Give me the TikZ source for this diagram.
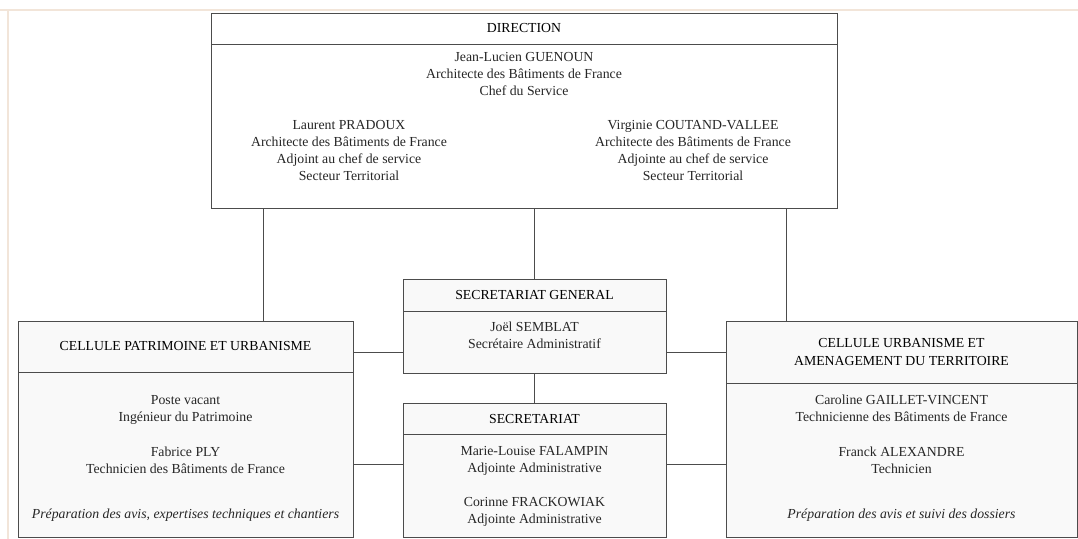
\documentclass[tikz,border=0pt]{standalone}
\usepackage{fontspec}
\setmainfont{Liberation Serif}
\usetikzlibrary{positioning}

\newcommand\orgfont{\fontsize{9.8}{12.1}\selectfont}

\begin{document}
\begin{tikzpicture}[
  font=\orgfont,
  head/.style={draw=black!70, line width=0.7pt, fill=gray!5, align=center, inner sep=0pt},
  body/.style={draw=black!70, line width=0.7pt, fill=gray!5, inner sep=0pt},
  txt/.style={align=center, text=black!85, inner sep=0pt},
  note/.style={txt, font=\orgfont\itshape},
  link/.style={draw=black!70, line width=0.7pt},
]
\useasboundingbox (0,0) rectangle (26.95,-13.475);
\draw[brown!20, line width=0.8pt] (0,-0.25) -- (26.95,-0.25);
\draw[brown!20, line width=0.8pt] (0.2,-0.25) -- (0.2,-13.475);

\node[head, fill=white, minimum width=15.65cm, minimum height=0.775cm] (dirh) at (13.1,-0.7125) {DIRECTION};
\node[body, fill=white, minimum width=15.65cm, minimum height=4.1cm, below=0pt of dirh] (dirb) {};
\node[txt] (chef) at (13.1,-1.85)
  {Jean-Lucien GUENOUN\\Architecte des Bâtiments de France\\Chef du Service};
\node[txt] (adj1) at (8.725,-3.7625)
  {Laurent PRADOUX\\Architecte des Bâtiments de France\\Adjoint au chef de service\\Secteur Territorial};
\node[txt] (adj2) at (17.325,-3.7625)
  {Virginie COUTAND-VALLEE\\Architecte des Bâtiments de France\\Adjointe au chef de service\\Secteur Territorial};

\node[head, minimum width=8.375cm, minimum height=1.275cm] (cpuh) at (4.6375,-8.6625) {CELLULE PATRIMOINE ET URBANISME};
\node[body, minimum width=8.375cm, minimum height=4.125cm, below=0pt of cpuh] (cpub) {};
\node[txt] (cpustaff) at (4.6375,-10.8625)
  {Poste vacant\\Ingénieur du Patrimoine\\[0.45cm]Fabrice PLY\\Technicien des Bâtiments de France};
\node[note] (cpunote) at (4.6375,-12.875) {Préparation des avis, expertises techniques et chantiers};

\node[head, minimum width=6.575cm, minimum height=0.8cm] (sgh) at (13.3625,-7.375) {SECRETARIAT GENERAL};
\node[body, minimum width=6.575cm, minimum height=1.55cm, below=0pt of sgh] (sgb) {};
\node[txt] (sgstaff) at (13.3625,-8.375) {Joël SEMBLAT\\Secrétaire Administratif};

\node[head, minimum width=6.575cm, minimum height=0.775cm] (sech) at (13.3625,-10.4625) {SECRETARIAT};
\node[body, minimum width=6.575cm, minimum height=2.575cm, below=0pt of sech] (secb) {};
\node[txt] (secstaff) at (13.3625,-12.15)
  {Marie-Louise FALAMPIN\\Adjointe Administrative\\[0.42cm]Corinne FRACKOWIAK\\Adjointe Administrative};

\node[head, minimum width=8.775cm, minimum height=1.55cm] (cuath) at (22.5375,-8.8) {CELLULE URBANISME ET\\AMENAGEMENT DU TERRITOIRE};
\node[body, minimum width=8.775cm, minimum height=3.85cm, below=0pt of cuath] (cuatb) {};
\node[txt] (cuatstaff) at (22.5375,-10.8625)
  {Caroline GAILLET-VINCENT\\Technicienne des Bâtiments de France\\[0.45cm]Franck ALEXANDRE\\Technicien};
\node[note] (cuatnote) at (22.5375,-12.875) {Préparation des avis et suivi des dossiers};

\coordinate (ltap) at (6.575,0);
\coordinate (rtap) at (19.65,0);
\coordinate (lowbus) at (0,-11.6);
\draw[link] (dirb.south -| ltap) -- (cpuh.north -| ltap);
\draw[link] (dirb.south -| sgh.north) -- (sgh.north);
\draw[link] (dirb.south -| rtap) -- (cuath.north -| rtap);
\draw[link] (cpuh.east |- cuath.west) -- (sgb.west |- cuath.west);
\draw[link] (sgb.east |- cuath.west) -- (cuath.west);
\draw[link] (cpub.east |- lowbus) -- (secb.west |- lowbus);
\draw[link] (secb.east |- lowbus) -- (cuatb.west |- lowbus);
\draw[link] (sgb.south) -- (sech.north);
\end{tikzpicture}
\end{document}
